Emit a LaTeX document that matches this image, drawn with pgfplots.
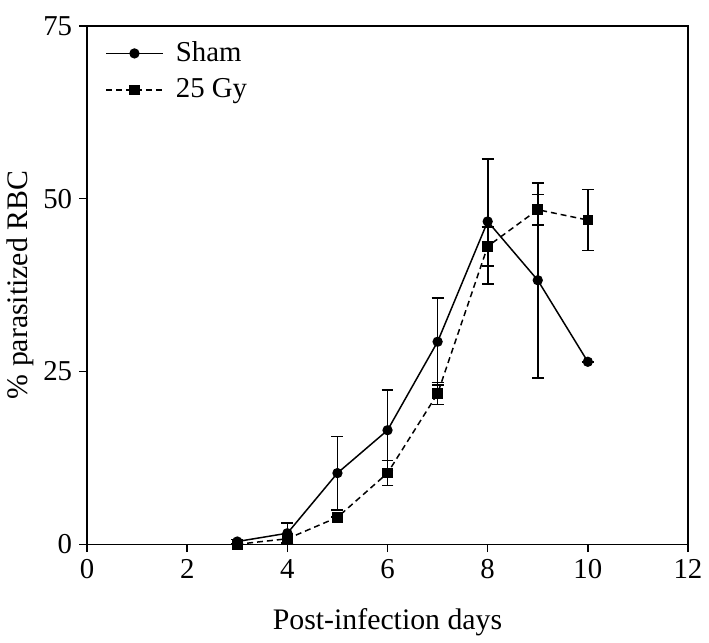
\documentclass[border=0pt]{standalone}
\usepackage{fontspec}
\setmainfont{Liberation Serif}
\usepackage{pgfplots}
\pgfplotsset{compat=1.18}

\begin{document}
\begin{tikzpicture}[font=\fontsize{14.5}{17}\selectfont]
  \begin{axis}[
      scale only axis,
      width=302.5pt, height=261pt,
      xmin=0, xmax=12, ymin=0, ymax=75,
      xtick={0,2,...,12}, ytick={0,25,50,75},
      xtick pos=bottom, ytick pos=left,
      tick align=outside, major tick length=4pt,
      axis line style={line width=0.75pt},
      every tick/.style={line width=0.75pt, black},
      /pgf/number format/assume math mode=true,
      xlabel={Post-infection days},
      ylabel={\% parasitized RBC},
      xlabel style={font=\fontsize{15}{17}\selectfont, yshift=-8pt},
      ylabel style={font=\fontsize{15}{17}\selectfont, yshift=-2pt},
      legend style={draw=none, fill=none, at={(0.02,0.985)}, anchor=north west,
        row sep=3pt, font=\fontsize{14.5}{17}\selectfont},
      legend cell align=left,
      legend image code/.code={
        \draw[mark repeat=2, mark phase=2, #1]
          plot coordinates {(0cm,0cm) (0.5cm,0cm) (1cm,0cm)};
        \path (1.15cm,0cm);},
      error bars/error mark options={rotate=90, mark size=3pt, line width=0.85pt, solid},
      error bars/error bar style={line width=0.85pt, solid},
    ]
    % Sham
    \addplot[black, line width=0.75pt, mark=*, mark size=2.2pt,
      error bars/.cd, y dir=both, y explicit]
      coordinates {
        (3, 0.4) +- (0, 0.3)
        (4, 1.6) +- (0, 1.5)
        (5, 10.3) +- (0, 5.3)
        (6, 16.5) +- (0, 5.8)
        (7, 29.3) +- (0, 6.3)
        (8, 46.7) +- (0, 9.0)
        (9, 38.2) +- (0, 14.1)
        (10, 26.4) +- (0, 0)
      };
    \addlegendentry{Sham}

    % 25 Gy
    \addplot[black, line width=0.75pt, dash pattern=on 3pt off 2pt,
      mark=square*, mark size=2.3pt, mark options={solid},
      error bars/.cd, y dir=both, y explicit]
      coordinates {
        (3, 0.0) +- (0, 0)
        (4, 0.8) +- (0, 0.6)
        (5, 3.9) +- (0, 0)
        (6, 10.3) +- (0, 1.8)
        (7, 21.8) +- (0, 1.6)
        (8, 43.1) +- (0, 2.8)
        (9, 48.4) +- (0, 2.2)
        (10, 46.9) +- (0, 4.4)
      };
    \addlegendentry{25 Gy}
  \end{axis}
  % a little space above the top, as in the original
  \path (current axis.north) ++(0,13pt);
\end{tikzpicture}
\end{document}
